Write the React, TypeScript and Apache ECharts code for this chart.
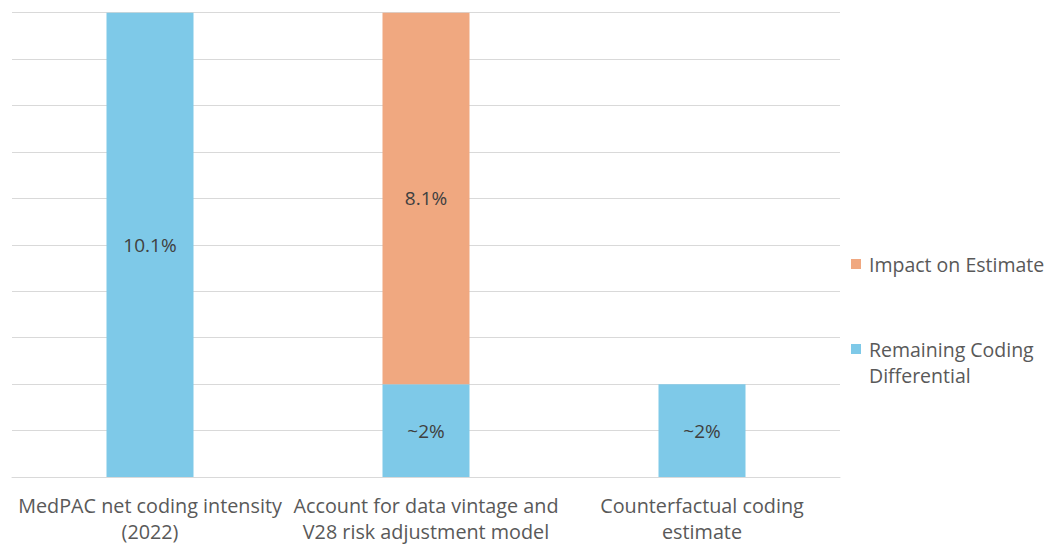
import React, { useEffect, useRef } from "react";
import * as echarts from "echarts";

// Categories (two-line axis labels)
const categories = [
  "MedPAC net coding intensity\n(2022)",
  "Account for data vintage and\nV28 risk adjustment model",
  "Counterfactual coding\nestimate",
];

// Series values, in percent
const remainingValues = [10.1, 2, 2];
const impactValues: (number | null)[] = [null, 8.1, null];

// Labels shown on the bars
const remainingLabels = ["10.1%", "~2%", "~2%"];
const impactLabels = ["", "8.1%", ""];

// Axis range
const yMin = 0;
const yMax = 10;
const yInterval = 1;

const BLUE = "#7ec9e8";
const ORANGE = "#f0a880";
const TEXT = "#595959";
const FONT = "'Open Sans', 'Noto Sans', sans-serif";

export default function App() {
  const ref = useRef<HTMLDivElement>(null);

  useEffect(() => {
    if (!ref.current) return;
    const chart = echarts.init(ref.current, undefined, { renderer: "svg" });
    chart.setOption({
      animation: false,
      backgroundColor: "#ffffff",
      textStyle: { fontFamily: FONT },
      grid: { left: 12, right: 211, top: 12.7, bottom: 62.3, containLabel: false },
      xAxis: {
        type: "category",
        data: categories,
        axisTick: { show: false },
        axisLine: { lineStyle: { color: "#d9d9d9", width: 1 } },
        axisLabel: {
          color: TEXT,
          fontSize: 19.8,
          lineHeight: 26,
          margin: 15,
          fontFamily: FONT,
          interval: 0,
        },
      },
      yAxis: {
        type: "value",
        min: yMin,
        max: yMax,
        interval: yInterval,
        axisLabel: { show: false },
        axisLine: { show: false },
        axisTick: { show: false },
        splitLine: { lineStyle: { color: "#d9d9d9", width: 1 } },
      },
      legend: [
        {
          data: ["Impact on Estimate"],
          left: 851,
          top: 252,
          padding: 0,
          itemWidth: 10,
          itemHeight: 10,
          itemGap: 0,
          icon: "rect",
          textStyle: {
            color: TEXT,
            fontSize: 19.5,
            lineHeight: 24,
            padding: [0, 0, 0, 3],
            fontFamily: FONT,
          },
        },
        {
          data: ["Remaining Coding Differential"],
          left: 851,
          top: 310,
          padding: 0,
          itemWidth: 10,
          itemHeight: 10,
          itemGap: 0,
          icon: "rect",
          // leading blank line keeps the icon level with the first text line
          formatter: () => "\nRemaining Coding\nDifferential",
          textStyle: {
            color: TEXT,
            fontSize: 19.5,
            lineHeight: 26,
            padding: [0, 0, 0, 3],
            fontFamily: FONT,
          },
        },
      ],
      series: [
        {
          name: "Remaining Coding Differential",
          type: "bar",
          stack: "total",
          data: remainingValues,
          barWidth: 87,
          clip: true,
          itemStyle: { color: BLUE },
          label: {
            show: true,
            position: "inside",
            color: "#404040",
            fontSize: 19,
            fontFamily: FONT,
            formatter: (p: any) => remainingLabels[p.dataIndex],
          },
        },
        {
          name: "Impact on Estimate",
          type: "bar",
          stack: "total",
          data: impactValues,
          barWidth: 87,
          clip: true,
          itemStyle: { color: ORANGE },
          label: {
            show: true,
            position: "inside",
            color: "#404040",
            fontSize: 19,
            fontFamily: FONT,
            formatter: (p: any) => impactLabels[p.dataIndex],
          },
        },
      ],
    });
    return () => chart.dispose();
  }, []);

  return (
    <div
      ref={ref}
      style={{ position: "absolute", left: 0, top: 0, width: 1051, height: 544 }}
    />
  );
}
